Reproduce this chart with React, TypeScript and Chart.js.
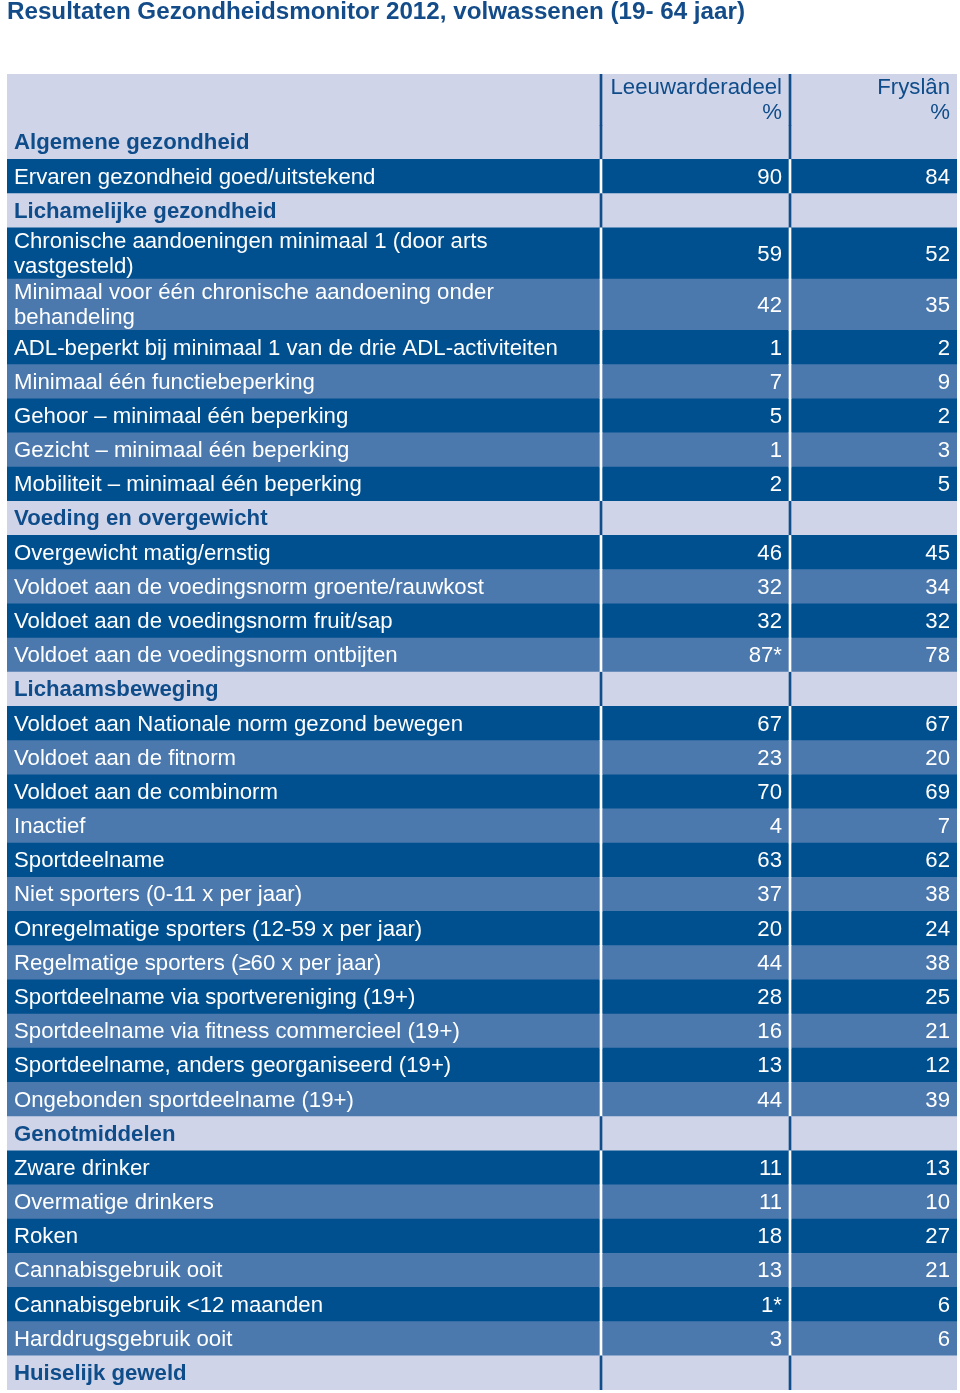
import React, { useEffect, useRef } from "react";
import { Chart, registerables } from "chart.js";

Chart.register(...registerables);

// ---------- data ----------
const TITLE = "Resultaten Gezondheidsmonitor 2012, volwassenen (19- 64 jaar)";
const COLUMN_HEADERS = ["Leeuwarderadeel\n%", "Fryslân\n%"];

const ROW_LABELS = [
  "Algemene gezondheid",
  "Ervaren gezondheid goed/uitstekend",
  "Lichamelijke gezondheid",
  "Chronische aandoeningen minimaal 1 (door arts\nvastgesteld)",
  "Minimaal voor één chronische aandoening onder\nbehandeling",
  "ADL-beperkt bij minimaal 1 van de drie ADL-activiteiten",
  "Minimaal één functiebeperking",
  "Gehoor – minimaal één beperking",
  "Gezicht – minimaal één beperking",
  "Mobiliteit – minimaal één beperking",
  "Voeding en overgewicht",
  "Overgewicht matig/ernstig",
  "Voldoet aan de voedingsnorm groente/rauwkost",
  "Voldoet aan de voedingsnorm fruit/sap",
  "Voldoet aan de voedingsnorm ontbijten",
  "Lichaamsbeweging",
  "Voldoet aan Nationale norm gezond bewegen",
  "Voldoet aan de fitnorm",
  "Voldoet aan de combinorm",
  "Inactief",
  "Sportdeelname",
  "Niet sporters (0-11 x per jaar)",
  "Onregelmatige sporters (12-59 x per jaar)",
  "Regelmatige sporters (≥60 x per jaar)",
  "Sportdeelname via sportvereniging (19+)",
  "Sportdeelname via fitness commercieel (19+)",
  "Sportdeelname, anders georganiseerd (19+)",
  "Ongebonden sportdeelname (19+)",
  "Genotmiddelen",
  "Zware drinker",
  "Overmatige drinkers",
  "Roken",
  "Cannabisgebruik ooit",
  "Cannabisgebruik <12 maanden",
  "Harddrugsgebruik ooit",
  "Huiselijk geweld",
];

// null = section heading (no values)
const LEEUWARDERADEEL: (number | null)[] = [
  null, 90, null, 59, 42, 1, 7, 5, 1, 2, null, 46, 32, 32, 87, null, 67, 23, 70, 4,
  63, 37, 20, 44, 28, 16, 13, 44, null, 11, 11, 18, 13, 1, 3, null,
];
const FRYSLAN: (number | null)[] = [
  null, 84, null, 52, 35, 2, 9, 2, 3, 5, null, 45, 34, 32, 78, null, 67, 20, 69, 7,
  62, 38, 24, 38, 25, 21, 12, 39, null, 13, 10, 27, 21, 6, 6, null,
];
// rows where the Leeuwarderadeel value is marked with *
const LEEUWARDERADEEL_MARKED = [
  "Voldoet aan de voedingsnorm ontbijten",
  "Cannabisgebruik <12 maanden",
];

// ---------- layout / style ----------
const FONT = "'Liberation Sans', Arial, Helvetica, sans-serif";
const FONT_SIZE = 22.2;
const LIGHT = "#cfd4e8";
const DARK = "#00508f";
const MEDIUM = "#4b79ae";
const TEXT_BLUE = "#0f4c8a";
const LINE_BLUE = "#104d8a";
const WIDTH = 950;
const HEIGHT = 1393;
// column boundaries on the x scale: label | sep | col1 | sep | col2
const EDGES = [0, 593, 595, 782, 784, 950];
const HEADER_UNITS = 1.5;
const LINE_STEP = 25;
const TEXT_SHIFT = 1;

type Kind = "header" | "section" | "dark" | "medium";
interface Row {
  label: string;
  kind: Kind;
  top: number;
  bottom: number;
  v1: string;
  v2: string;
}

function buildRows(): Row[] {
  const rows: Row[] = [
    { label: "", kind: "header", top: 0, bottom: HEADER_UNITS, v1: COLUMN_HEADERS[0], v2: COLUMN_HEADERS[1] },
  ];
  let cursor = HEADER_UNITS;
  let alt = 0;
  ROW_LABELS.forEach((label, i) => {
    const lines = label.split("\n").length;
    const units = lines > 1 ? 1.5 : 1;
    const a = LEEUWARDERADEEL[i];
    const b = FRYSLAN[i];
    let kind: Kind;
    if (a === null) {
      kind = "section";
      alt = 0;
    } else {
      kind = alt % 2 === 0 ? "dark" : "medium";
      alt++;
    }
    rows.push({
      label,
      kind,
      top: cursor,
      bottom: cursor + units,
      v1: a === null ? "" : String(a) + (LEEUWARDERADEEL_MARKED.includes(label) ? "*" : ""),
      v2: b === null ? "" : String(b),
    });
    cursor += units;
  });
  return rows;
}

const ROWS = buildRows();
const TOTAL_UNITS = ROWS[ROWS.length - 1].bottom;

const isLight = (k: Kind) => k === "header" || k === "section";

function columnDataset(colStart: number, colEnd: number, sep: boolean) {
  return {
    data: ROWS.map((r) => ({ x: (EDGES[colStart] + EDGES[colEnd]) / 2, y: [r.top, r.bottom] })),
    barThickness: EDGES[colEnd] - EDGES[colStart],
    stack: "table",
    borderWidth: 0,
    backgroundColor: (c: any) => {
      const r = ROWS[c.dataIndex];
      if (!r) return LIGHT;
      if (sep) return isLight(r.kind) ? LINE_BLUE : "#ffffff";
      return isLight(r.kind) ? LIGHT : r.kind === "dark" ? DARK : MEDIUM;
    },
  };
}

const textPlugin = {
  id: "tableText",
  afterDatasetsDraw(chart: any) {
    const ctx: CanvasRenderingContext2D = chart.ctx;
    const yScale = chart.scales.y;
    const labelMeta = chart.getDatasetMeta(2);
    const c1Meta = chart.getDatasetMeta(3);
    const c2Meta = chart.getDatasetMeta(4);
    ctx.save();
    ctx.textBaseline = "middle";
    const drawLines = (text: string, x: number, yc: number, align: CanvasTextAlign) => {
      const lines = text.split("\n");
      ctx.textAlign = align;
      lines.forEach((ln, k) => {
        ctx.fillText(ln, x, yc + TEXT_SHIFT + (k - (lines.length - 1) / 2) * LINE_STEP);
      });
    };
    ROWS.forEach((r, i) => {
      const yc = yScale.getPixelForValue((r.top + r.bottom) / 2);
      const le = labelMeta.data[i];
      const e1 = c1Meta.data[i];
      const e2 = c2Meta.data[i];
      const light = isLight(r.kind);
      ctx.fillStyle = light ? TEXT_BLUE : "#ffffff";
      ctx.font = `${r.kind === "section" ? "bold" : "normal"} ${FONT_SIZE}px ${FONT}`;
      if (r.label) drawLines(r.label, le.x - le.width / 2 + 7, yc, "left");
      ctx.font = `normal ${FONT_SIZE}px ${FONT}`;
      if (r.v1) drawLines(r.v1, e1.x + e1.width / 2 - 7, yc, "right");
      if (r.v2) drawLines(r.v2, e2.x + e2.width / 2 - 7, yc, "right");
    });
    ctx.restore();
  },
};

export default function App() {
  const ref = useRef<HTMLCanvasElement>(null);
  useEffect(() => {
    if (!ref.current) return;
    const chart = new Chart(ref.current, {
      type: "bar",
      data: {
        datasets: [
          columnDataset(1, 2, true),
          columnDataset(3, 4, true),
          columnDataset(0, 1, false),
          columnDataset(2, 3, false),
          columnDataset(4, 5, false),
        ] as any,
      },
      options: {
        animation: false,
        responsive: false,
        devicePixelRatio: 1,
        layout: { padding: { top: 0, left: 0, right: 0, bottom: 3 } },
        scales: {
          x: { type: "linear", min: 0, max: WIDTH, display: false, stacked: true, offset: false, grid: { display: false } },
          y: { type: "linear", min: 0, max: TOTAL_UNITS, reverse: true, display: false, stacked: false, grid: { display: false } },
        },
        plugins: {
          legend: { display: false },
          tooltip: { enabled: false },
          title: {
            display: true,
            text: TITLE,
            align: "start",
            color: "#134c89",
            font: { family: FONT, size: 24.2, weight: "bold", lineHeight: 0.9 },
            padding: { top: 1.5, bottom: 50.72 },
          },
        },
      } as any,
      plugins: [textPlugin],
    });
    return () => chart.destroy();
  }, []);
  return (
    <div style={{ position: "absolute", left: 7, top: 0, width: WIDTH, height: HEIGHT }}>
      <canvas ref={ref} width={WIDTH} height={HEIGHT} style={{ display: "block", width: WIDTH, height: HEIGHT }} />
    </div>
  );
}
